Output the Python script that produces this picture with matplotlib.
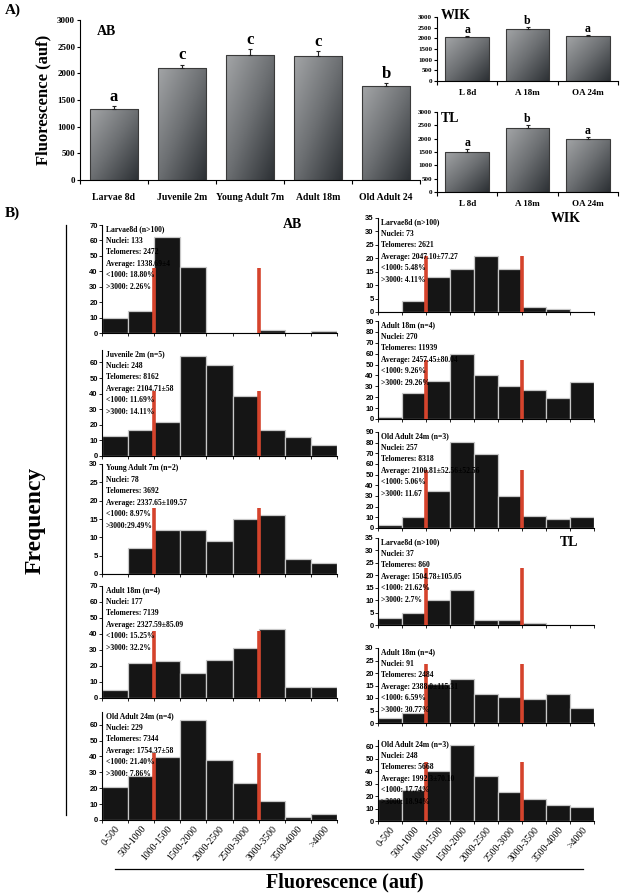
import numpy as np
import matplotlib
matplotlib.use("Agg")
import matplotlib.pyplot as plt
from matplotlib.colors import LinearSegmentedColormap
from matplotlib.lines import Line2D

# ---- panel A data ----
ab_cats = ["Larvae 8d", "Juvenile 2m", "Young Adult 7m", "Adult 18m", "Old Adult 24"]
ab_mean = [1338.69, 2104.71, 2337.65, 2327.59, 1754.37]
ab_err = [40, 58, 109.57, 85.09, 58]
ab_letters = ["a", "c", "c", "c", "b"]

short_cats = ["L 8d", "A 18m", "OA 24m"]
wik_mean = [2047.10, 2457.45, 2100.81]
wik_err = [77.27, 80.04, 52.56]
wik_letters = ["a", "b", "a"]
tl_mean = [1504.78, 2388.0, 1992.3]
tl_err = [105.05, 115.31, 70.10]
tl_letters = ["a", "b", "a"]

# ---- panel B data (frequency per fluorescence bin) ----
bins = ["0-500", "500-1000", "1000-1500", "1500-2000", "2000-2500",
        "2500-3000", "3000-3500", "3500-4000", ">4000"]

ab_larvae = [10, 14.5, 62, 43, 0, 0, 2, 0, 1]
ab_juv = [13, 16.5, 22, 64, 58.5, 38.5, 16.5, 12, 7]
ab_young = [0, 7, 12, 12, 9, 15, 16, 4, 3]
ab_adult = [5, 22, 23, 15.5, 24, 31, 43, 7, 7]
ab_old = [21, 28, 39.5, 63, 37.5, 23, 12, 2, 3.5]

wik_larvae = [0, 4, 13, 16, 21, 16, 2, 1.2, 0]
wik_adult = [2, 24, 35, 60, 40, 30, 27, 19, 34]
wik_old = [3, 10, 35, 81, 69, 30, 11, 8.5, 10]

tl_larvae = [3, 5, 10, 14, 2, 2, 1, 0, 0]
tl_adult = [2, 4, 15.5, 17.5, 11.5, 10.5, 9.5, 11.5, 6]
tl_old = [18, 25, 40, 61, 36, 23, 18, 13, 11]

ab_txt = [
    ["Larvae8d (n>100)", "Nuclei: 133", "Telomeres: 2472", "Average: 1338.69±4", "<1000: 18.80%", ">3000: 2.26%"],
    ["Juvenile 2m (n=5)", "Nuclei: 248", "Telomeres: 8162", "Average: 2104.71±58", "<1000: 11.69%", ">3000: 14.11%"],
    ["Young Adult 7m (n=2)", "Nuclei: 78", "Telomeres: 3692", "Average: 2337.65±109.57", "<1000: 8.97%", ">3000:29.49%"],
    ["Adult 18m (n=4)", "Nuclei: 177", "Telomeres: 7139", "Average: 2327.59±85.09", "<1000: 15.25%", ">3000: 32.2%"],
    ["Old Adult 24m (n=4)", "Nuclei: 229", "Telomeres: 7344", "Average: 1754.37±58", "<1000: 21.40%", ">3000: 7.86%"],
]
wik_txt = [
    ["Larvae8d (n>100)", "Nuclei: 73", "Telomeres: 2621", "Average: 2047.10±77.27", "<1000: 5.48%", ">3000: 4.11%"],
    ["Adult 18m (n=4)", "Nuclei: 270", "Telomeres: 11939", "Average: 2457.45±80.04", "<1000: 9.26%", ">3000: 29.26%"],
    ["Old Adult 24m (n=3)", "Nuclei: 257", "Telomeres: 8318", "Average: 2100.81±52.56±52.56", "<1000: 5.06%", ">3000: 11.67"],
]
tl_txt = [
    ["Larvae8d (n>100)", "Nuclei: 37", "Telomeres: 860", "Average: 1504.78±105.05", "<1000: 21.62%", ">3000: 2.7%"],
    ["Adult 18m (n=4)", "Nuclei: 91", "Telomeres: 2484", "Average: 2388.0±115.31", "<1000: 6.59%", ">3000: 30.77%"],
    ["Old Adult 24m (n=3)", "Nuclei: 248", "Telomeres: 5668", "Average: 1992.3±70.10", "<1000: 17.74%", ">3000: 18.94%"],
]

SERIF = "Liberation Serif"
SANS = "Liberation Sans"
W, H = 620, 893
fig = plt.figure(figsize=(6.2, 8.93), dpi=100)

def px_axes(x0, x1, ytop, ybot):
    return fig.add_axes([x0 / W, 1 - ybot / H, (x1 - x0) / W, (ybot - ytop) / H])

grad_cm = LinearSegmentedColormap.from_list("g", ["#a3a5a7", "#6c6f72", "#2c3034"])

def bar_panel(ax, cats, mean, err, letters, title, lsize, xfs, yfs, title_xy, pad, off):
    n = len(cats)
    x = np.arange(n)
    bars = ax.bar(x, mean, 0.72, facecolor="none", edgecolor="#3a3a3a", lw=0.8, zorder=3)
    g = np.add.outer(np.linspace(0, 1, 60), np.linspace(0, 1, 60))
    for b in bars:
        im = ax.imshow(g, cmap=grad_cm, extent=[b.get_x(), b.get_x() + b.get_width(), 0, b.get_height()],
                       aspect="auto", origin="upper", zorder=2)
        im.set_clip_path(b)
    ax.errorbar(x, mean, yerr=[np.zeros(n), err], fmt="none", ecolor="#222", elinewidth=0.8,
                capsize=1.5, capthick=0.8, zorder=4)
    for xi, m, e, l in zip(x, mean, err, letters):
        ax.text(xi, m + e + off, l, ha="center", va="bottom", fontsize=lsize,
                fontweight="bold", family=SERIF)
    ax.set_xlim(-0.5, n - 0.5)
    ax.set_ylim(0, 3000)
    ax.set_yticks(np.arange(0, 3001, 500))
    ax.set_xticks(np.arange(n + 1) - 0.5)
    ax.set_xticklabels([])
    ax.set_xticks(x, minor=True)
    ax.set_xticklabels(cats, minor=True)
    ax.tick_params(axis="x", which="major", length=3, width=0.8)
    ax.tick_params(axis="x", which="minor", length=0, pad=pad, labelsize=xfs)
    ax.tick_params(axis="y", length=2.5, width=0.8, labelsize=yfs, pad=1)
    for lab in ax.get_xticklabels(minor=True) + ax.get_yticklabels():
        lab.set_family(SERIF)
        lab.set_fontweight("bold")
    for s in ["top", "right"]:
        ax.spines[s].set_visible(False)
    ax.text(title_xy[0], title_xy[1], title, transform=ax.transAxes, fontsize=10,
            fontweight="bold", family=SERIF, va="top", ha="left")

ax = px_axes(80, 420, 20, 180)
bar_panel(ax, ab_cats, ab_mean, ab_err, ab_letters, "AB", 12, 7, 6.5, (0.05, 0.97), 9, 30)
ax.set_ylabel("Fluorescence (auf)", fontsize=12, fontweight="bold", family=SERIF, labelpad=4)

ax = px_axes(437, 618, 17, 81)
bar_panel(ax, short_cats, wik_mean, wik_err, wik_letters, "WIK", 8.5, 6.5, 5, (0.02, 1.12), 6, 0)
ax = px_axes(437, 618, 112, 192)
bar_panel(ax, short_cats, tl_mean, tl_err, tl_letters, "TL", 8.5, 6.5, 5, (0.02, 1.0), 6, 0)

# ---- histograms ----
def hist_panel(ax, vals, ymax, ystep, redh, lines, bottom):
    x = np.arange(len(vals))
    ax.bar(x, vals, 1.0, align="edge", color="#151515", edgecolor="#c8c8c8", lw=0.9, zorder=2)
    ax.vlines([2, 6], 0, redh, color="#d5432c", lw=2.6, zorder=3)
    ax.set_xlim(0, len(vals))
    ax.set_ylim(0, ymax)
    ax.set_yticks(np.arange(0, ymax + 0.01, ystep))
    ax.set_xticks(np.arange(len(vals) + 1))
    ax.set_xticklabels([])
    ax.tick_params(axis="x", which="major", length=2, width=0.6)
    ax.tick_params(axis="y", length=2, width=0.6, labelsize=5.5, pad=1)
    for lab in ax.get_yticklabels():
        lab.set_family(SANS)
        lab.set_fontweight("bold")
    if bottom:
        ax.set_xticks(x + 0.5, minor=True)
        ax.set_xticklabels(bins, minor=True, rotation=50, ha="right", rotation_mode="anchor",
                           fontsize=7, family=SERIF)
        ax.tick_params(axis="x", which="minor", length=0, pad=3)
    for s in ["top", "right"]:
        ax.spines[s].set_visible(False)
    ax.spines["left"].set_linewidth(0.8)
    ax.spines["bottom"].set_linewidth(0.8)
    ax.text(0.015, 1.0, "\n".join(lines), transform=ax.transAxes, va="top", ha="left",
            fontsize=5.5, fontweight="bold", family=SERIF, linespacing=1.6, zorder=5)

L0, L1 = 102, 337
R0, R1 = 378, 594

hist_panel(px_axes(L0, L1, 225, 333), ab_larvae, 70, 10, 42, ab_txt[0], False)
hist_panel(px_axes(L0, L1, 350, 456), ab_juv, 68, 10, 42, ab_txt[1], False)
hist_panel(px_axes(L0, L1, 464, 574), ab_young, 30, 5, 18, ab_txt[2], False)
hist_panel(px_axes(L0, L1, 586, 698), ab_adult, 70, 10, 42, ab_txt[3], False)
hist_panel(px_axes(L0, L1, 712, 820), ab_old, 68, 10, 42, ab_txt[4], True)

hist_panel(px_axes(R0, R1, 218, 312), wik_larvae, 35, 5, 21, wik_txt[0], False)
hist_panel(px_axes(R0, R1, 321, 419), wik_adult, 90, 10, 54, wik_txt[1], False)
hist_panel(px_axes(R0, R1, 432, 528), wik_old, 90, 10, 54, wik_txt[2], False)
hist_panel(px_axes(R0, R1, 538, 625), tl_larvae, 35, 5, 23, tl_txt[0], False)
hist_panel(px_axes(R0, R1, 648, 723), tl_adult, 30, 5, 23.5, tl_txt[1], False)
hist_panel(px_axes(R0, R1, 740, 821), tl_old, 65, 10, 47, tl_txt[2], True)

# ---- labels and decorations ----
def ftext(x, y, s, size, **kw):
    fig.text(x / W, 1 - y / H, s, fontsize=size, fontweight="bold", family=SERIF,
             ha=kw.pop("ha", "center"), va=kw.pop("va", "center"), **kw)

ftext(5, 10, "A)", 11, ha="left")
ftext(5, 213, "B)", 11, ha="left")
ftext(292, 224, "AB", 10)
ftext(566, 219, "WIK", 10)
ftext(569, 542, "TL", 10)
ftext(35, 520, "Frequency", 17, rotation=90)
ftext(345, 882, "Fluorescence (auf)", 14.5)
fig.add_artist(Line2D([66 / W, 66 / W], [1 - 225 / H, 1 - 815 / H], color="black", lw=0.9))
fig.add_artist(Line2D([115 / W, 583 / W], [1 - 869 / H, 1 - 869 / H], color="black", lw=0.9))

fig.savefig("out.png", dpi=100)
